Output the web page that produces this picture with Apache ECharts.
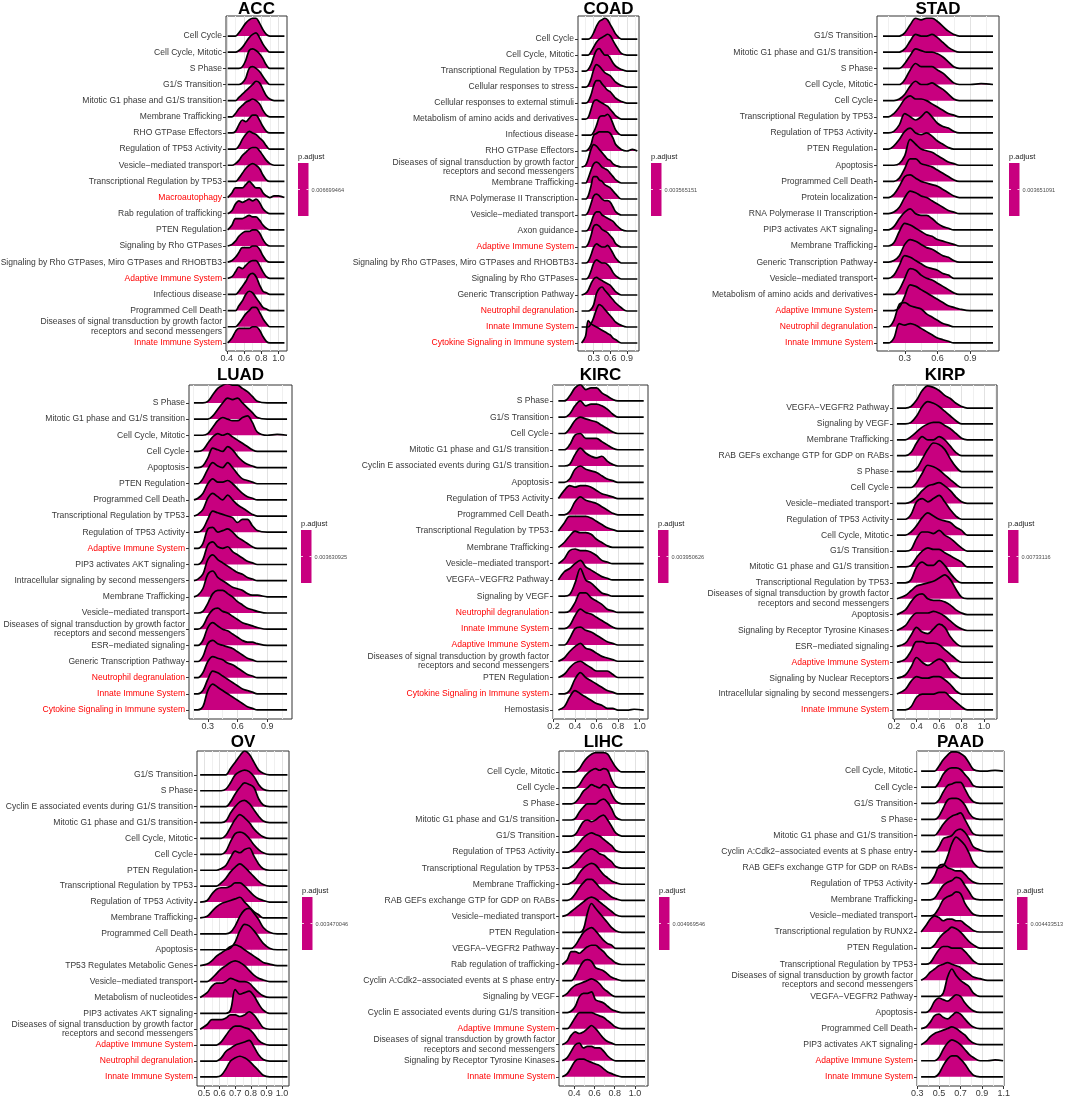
<!DOCTYPE html>
<html>
<head>
<meta charset="utf-8">
<script src="https://cdn.jsdelivr.net/npm/echarts@6/dist/echarts.min.js"></script>
<style>
    html, body { margin: 0; padding: 0; background: #fff; }
    #chart { width: 1065px; height: 1097px; }
</style>
</head>
<body>
<div id="chart"></div>
<script>
const DIS = 'Diseases of signal transduction by growth factor\nreceptors and second messengers';

const panelNames = ['ACC', 'COAD', 'STAD', 'LUAD', 'KIRC', 'KIRP', 'OV', 'LIHC', 'PAAD'];
const pAdjust = ['0.006699464', '0.003565151', '0.003651091', '0.003630925', '0.003950626',
    '0.00733116', '0.003470046', '0.004969546', '0.004433513'];
const redTerms = ['Macroautophagy', 'Adaptive Immune System', 'Innate Immune System',
    'Neutrophil degranulation', 'Cytokine Signaling in Immune system'];

// terms listed top to bottom, densities in tenths of a row height
const accTerms = ['Cell Cycle', 'Cell Cycle, Mitotic', 'S Phase', 'G1/S Transition', 'Mitotic G1 phase and G1/S transition',
    'Membrane Trafficking', 'RHO GTPase Effectors', 'Regulation of TP53 Activity', 'Vesicle−mediated transport',
    'Transcriptional Regulation by TP53', 'Macroautophagy', 'Rab regulation of trafficking', 'PTEN Regulation',
    'Signaling by Rho GTPases', 'Signaling by Rho GTPases, Miro GTPases and RHOBTB3', 'Adaptive Immune System',
    'Infectious disease', 'Programmed Cell Death', DIS, 'Innate Immune System'];
const accX = [0.41, 0.46, 0.50, 0.54, 0.58, 0.62, 0.66, 0.70, 0.74, 0.78, 0.82, 0.86, 0.90, 0.95, 1.00, 1.07];
const accDensity = [
    [0,0,0,2,5,8,10,11,11,8,4,1,0,0,0,0],
    [0,0,0,1,3,6,9,11,12,9,5,2,0,0,0,0],
    [0,0,0,0,1,5,11,12,11,9,6,2,0,0,0,0],
    [0,0,0,0,1,4,10,11,10,8,5,2,0,0,0,0],
    [0,0,0,2,4,6,8,10,12,11,7,3,1,0,0,0],
    [0,0,2,5,7,9,10,11,10,8,4,1,0,0,0,0],
    [0,0,1,5,8,7,9,11,11,8,4,1,0,0,0,0],
    [0,0,0,2,6,9,11,10,9,7,5,2,0,0,0,0],
    [0,0,1,3,6,8,10,11,11,9,6,3,1,0,0,0],
    [0,0,0,2,5,8,10,11,10,8,4,1,0,0,0,0],
    [0,3,6,6,6,8,10,8,6,6,3,1,0,1,1,0],
    [0,2,6,8,7,8,9,8,9,7,3,1,0,0,0,0],
    [0,3,7,7,7,8,9,8,8,6,3,1,0,0,0,0],
    [0,1,3,6,8,9,9,10,10,8,4,1,0,0,0,0],
    [0,1,3,6,9,9,9,10,10,8,4,1,0,0,0,0],
    [0,1,4,7,6,8,10,11,11,8,4,1,0,0,0,0],
    [0,0,0,2,5,8,12,13,11,6,2,1,0,0,0,0],
    [0,0,0,3,6,10,12,11,8,5,2,1,0,0,0,0],
    [0,0,0,2,5,8,10,12,12,9,5,2,0,0,0,0],
    [0,3,7,9,9,9,9,10,10,8,4,1,0,0,0,0]
];
const accTicks = [0.4, 0.6, 0.8, 1.0];
const accGrid = [0.4, 0.5, 0.6, 0.7, 0.8, 0.9, 1.0];

const coadTerms = ['Cell Cycle', 'Cell Cycle, Mitotic', 'Transcriptional Regulation by TP53', 'Cellular responses to stress',
    'Cellular responses to external stimuli', 'Metabolism of amino acids and derivatives', 'Infectious disease',
    'RHO GTPase Effectors', DIS, 'Membrane Trafficking', 'RNA Polymerase II Transcription', 'Vesicle−mediated transport',
    'Axon guidance', 'Adaptive Immune System', 'Signaling by Rho GTPases, Miro GTPases and RHOBTB3',
    'Signaling by Rho GTPases', 'Generic Transcription Pathway', 'Neutrophil degranulation', 'Innate Immune System',
    'Cytokine Signaling in Immune system'];
const coadX = [0.08, 0.15, 0.2, 0.25, 0.3, 0.35, 0.4, 0.45, 0.5, 0.55, 0.6, 0.65, 0.7, 0.8, 0.9, 1.0, 1.09];
const coadDensity = [
    [0,0,0,1,4,8,11,12,13,12,9,6,3,0,0,0,0],
    [0,0,0,2,5,8,10,11,12,13,12,9,6,1,0,0,0],
    [0,0,1,4,9,13,14,12,10,10,8,5,3,1,0,0,0],
    [0,0,1,5,11,14,13,11,9,8,7,5,3,1,0,0,0],
    [0,0,1,5,11,14,14,12,10,8,7,5,3,1,0,0,0],
    [0,0,1,6,11,12,11,10,9,8,6,4,2,0,0,0,0],
    [0,0,0,0,2,6,11,12,12,13,11,7,3,0,0,0,0],
    [0,0,1,4,10,11,12,12,12,12,11,8,4,1,0,1,0],
    [0,1,5,11,14,13,11,9,7,5,4,2,1,0,0,0,0],
    [0,0,3,8,12,13,12,10,9,8,6,4,2,0,0,0,0],
    [0,0,2,8,14,14,12,11,9,8,7,5,3,0,0,0,0],
    [0,0,2,7,12,13,12,10,9,9,8,5,2,0,0,0,0],
    [0,0,1,5,10,12,12,10,9,8,7,6,4,1,0,0,0],
    [0,0,2,7,13,14,13,11,10,9,7,5,2,0,0,0,0],
    [0,0,1,5,10,12,11,10,10,11,9,6,3,0,0,0,0],
    [0,0,1,5,10,12,11,10,10,9,7,4,2,0,0,0,0],
    [0,1,3,7,10,11,10,9,8,7,6,4,2,0,0,0,0],
    [0,0,0,1,4,11,14,15,13,11,9,7,5,2,0,0,0],
    [0,0,0,2,6,11,14,13,11,9,7,5,3,1,0,0,0],
    [0,4,14,12,11,10,9,8,7,6,5,3,2,0,0,0,0]
];
const coadTicks = [0.3, 0.6, 0.9];
const coadGrid = [0.15, 0.3, 0.45, 0.6, 0.75, 0.9, 1.05];

const stadTerms = ['G1/S Transition', 'Mitotic G1 phase and G1/S transition', 'S Phase', 'Cell Cycle, Mitotic', 'Cell Cycle',
    'Transcriptional Regulation by TP53', 'Regulation of TP53 Activity', 'PTEN Regulation', 'Apoptosis',
    'Programmed Cell Death', 'Protein localization', 'RNA Polymerase II Transcription', 'PIP3 activates AKT signaling',
    'Membrane Trafficking', 'Generic Transcription Pathway', 'Vesicle−mediated transport',
    'Metabolism of amino acids and derivatives', 'Adaptive Immune System', 'Neutrophil degranulation',
    'Innate Immune System'];
const stadX = [0.1, 0.15, 0.2, 0.25, 0.3, 0.35, 0.4, 0.45, 0.5, 0.55, 0.6, 0.65, 0.7, 0.75, 0.8, 0.9, 1.0, 1.11];
const stadDensity = [
    [0,0,0,0,2,7,11,10,11,11,9,6,3,1,0,0,0,0],
    [0,0,0,0,2,7,11,10,10,11,9,6,3,1,0,0,0,0],
    [0,0,0,0,3,8,12,11,10,10,9,7,4,1,0,0,0,0],
    [0,0,0,0,3,9,13,11,11,11,9,7,4,1,0,0,0.5,0],
    [0,0,0,1,4,9,12,10,10,11,9,7,4,1,0,0,0,0],
    [0,0,2,6,11,13,11,11,10,8,6,4,2,1,0,0,0,0],
    [0,0,1,5,12,10,8,10,13,10,6,4,3,1,0,0,0,0],
    [0,0,2,6,11,13,10,9,10,8,5,3,1,0,0,0,0,0],
    [0,0,0,1,6,16,13,10,9,8,6,4,2,1,0,0,0,0],
    [0,0,0,2,8,14,14,11,10,9,7,5,3,1,0,0,0,0],
    [0,0,2,7,13,14,12,10,9,8,7,5,3,1,0,0,0,0],
    [0,0,1,4,10,14,13,11,10,8,6,4,2,1,0,0,0,0],
    [0,0,2,7,11,13,10,9,9,7,4,2,1,0,0,0,0,0],
    [0,0,2,9,14,13,11,9,7,6,4,3,2,1,0,0,0,0],
    [0,0,1,4,11,14,13,11,9,8,6,4,3,1,0,0,0,0],
    [0,0,2,8,14,13,11,9,7,6,5,3,2,0,0,0,0,0],
    [0,0,0,3,10,16,15,12,10,9,7,5,3,1,0,0,0,0],
    [0,0,0,2,9,16,15,13,11,9,7,5,3,2,1,0,0,0],
    [0,0,4,14,15,13,12,11,8,6,4,2,1,0,0,0,0,0],
    [0,0,3,12,11,12,11,9,7,5,3,2,1,0,0,0,0,0]
];
const stadTicks = [0.3, 0.6, 0.9];
const stadGrid = [0.15, 0.3, 0.45, 0.6, 0.75, 0.9, 1.05];

const luadTerms = ['S Phase', 'Mitotic G1 phase and G1/S transition', 'Cell Cycle, Mitotic', 'Cell Cycle', 'Apoptosis',
    'PTEN Regulation', 'Programmed Cell Death', 'Transcriptional Regulation by TP53', 'Regulation of TP53 Activity',
    'Adaptive Immune System', 'PIP3 activates AKT signaling', 'Intracellular signaling by second messengers',
    'Membrane Trafficking', 'Vesicle−mediated transport', DIS, 'ESR−mediated signaling',
    'Generic Transcription Pathway', 'Neutrophil degranulation', 'Innate Immune System',
    'Cytokine Signaling in Immune system'];
const luadX = [0.16, 0.2, 0.25, 0.3, 0.35, 0.4, 0.45, 0.5, 0.55, 0.6, 0.65, 0.7, 0.75, 0.8, 0.9, 1.0, 1.1];
const luadDensity = [
    [0,0,0,1,5,9,11,12,11,11,9,7,4,1,0,0,0],
    [0,0,0,0,2,6,10,13,12,13,10,7,4,1,0,0,0],
    [0,0,0,1,5,9,11,10,9,9,11,12,8,2,0,0.5,0],
    [0,0,1,5,9,11,10,11,9,7,5,3,1,0,0,0,0],
    [0,0,1,6,12,11,10,13,11,7,4,2,1,0,0,0,0],
    [0,0,3,9,13,11,10,13,10,6,3,2,1,0,0,0,0],
    [0,1,4,10,13,11,11,12,10,7,4,2,1,0,0,0,0],
    [0,1,4,11,14,12,10,13,10,7,5,3,1,0,0,0,0],
    [0,0,2,8,13,12,11,10,9,6,8,8,4,1,0,0,0],
    [0,0,3,12,13,10,11,12,10,7,5,3,1,0,0,0,0],
    [0,0,3,12,14,11,10,11,8,6,4,2,1,0,0,0,0],
    [0,1,4,13,16,13,11,9,7,5,4,2,1,0,0,0,0],
    [0,1,5,14,16,12,10,8,6,5,4,2,1,1,0,0,0],
    [0,0,1,6,12,14,14,12,10,7,5,3,2,1,0,0,0],
    [0,0,2,8,12,13,11,10,8,6,4,3,2,1,0,0,0],
    [0,0,3,11,14,12,10,9,7,5,3,2,2,1,0,0,0],
    [0,0,3,11,13,11,10,9,8,6,4,2,1,0,0,0,0],
    [0,0,3,10,13,12,11,9,8,6,4,2,1,0,0,0,0],
    [0,0,2,9,14,13,11,9,7,5,3,2,1,0,0,0,0],
    [0,0,2,12,16,14,12,10,8,6,4,2,1,0,0,0,0]
];
const luadTicks = [0.3, 0.6, 0.9];
const luadGrid = [0.15, 0.3, 0.45, 0.6, 0.75, 0.9, 1.05];

const kircTerms = ['S Phase', 'G1/S Transition', 'Cell Cycle', 'Mitotic G1 phase and G1/S transition',
    'Cyclin E associated events during G1/S transition', 'Apoptosis', 'Regulation of TP53 Activity',
    'Programmed Cell Death', 'Transcriptional Regulation by TP53', 'Membrane Trafficking', 'Vesicle−mediated transport',
    'VEGFA−VEGFR2 Pathway', 'Signaling by VEGF', 'Neutrophil degranulation', 'Innate Immune System',
    'Adaptive Immune System', DIS, 'PTEN Regulation', 'Cytokine Signaling in Immune system', 'Hemostasis'];
const kircX = [0.245, 0.3, 0.35, 0.4, 0.45, 0.5, 0.55, 0.6, 0.65, 0.7, 0.75, 0.8, 0.85, 0.9, 0.95, 1.04];
const kircDensity = [
    [0,0,3,8,10,7,8,8,5,3,1,0,0,0,0,0],
    [0,0,2,7,10,7,8,8,7,5,2,0,0,0,0,0],
    [0,0,3,8,10,9,8,7,5,3,1,0,0,0,0,0],
    [0,0,3,9,10,7,7,7,5,3,1,0,0,0,0,0],
    [0,0,1,7,11,8,6,5,6,3,1,0,0,0,0,0],
    [0,0,2,8,10,8,7,6,4,2,1,0,0,0,0,0],
    [0,5,8,7,8,8,7,5,3,2,1,0,0,0,0,0],
    [0,0,2,8,11,9,8,7,5,3,1,0,0,0,0,0],
    [0,5,9,9,9,9,8,6,4,2,1,0,0,0,0,0],
    [0,3,7,10,9,9,8,5,3,1,0,0,0,0,0,0],
    [0,3,8,9,8,8,7,5,2,1,0,0,0,0,0,0],
    [0,5,7,10,12,8,6,4,2,1,0,0,0,0,0,0],
    [0,0,1,8,17,10,8,5,2,1,0,0,0,0,0,0],
    [0,0,1,6,12,12,9,7,5,2,1,0,0,0,0,0],
    [0,0,2,8,12,10,9,7,5,3,1,0,0,0,0,0],
    [0,0,4,10,11,9,8,6,4,2,1,0,0,0,0,0],
    [0,2,6,9,11,8,7,5,3,2,1,0,0,0,0,0],
    [0,2,6,9,10,8,6,4,4,4,2,0,0,0,0,0],
    [0,0,2,9,13,10,8,6,4,2,1,0,0,0,0,0],
    [0,2,8,12,10,8,6,4,3,1,1,0,0,0,0.5,0]
];
const kircTicks = [0.2, 0.4, 0.6, 0.8, 1.0];
const kircGrid = [0.2, 0.3, 0.4, 0.5, 0.6, 0.7, 0.8, 0.9, 1.0];

const kirpTerms = ['VEGFA−VEGFR2 Pathway', 'Signaling by VEGF', 'Membrane Trafficking',
    'RAB GEFs exchange GTP for GDP on RABs', 'S Phase', 'Cell Cycle', 'Vesicle−mediated transport',
    'Regulation of TP53 Activity', 'Cell Cycle, Mitotic', 'G1/S Transition', 'Mitotic G1 phase and G1/S transition',
    'Transcriptional Regulation by TP53', DIS, 'Apoptosis', 'Signaling by Receptor Tyrosine Kinases',
    'ESR−mediated signaling', 'Adaptive Immune System', 'Signaling by Nuclear Receptors',
    'Intracellular signaling by second messengers', 'Innate Immune System'];
const kirpX = [0.225, 0.3, 0.35, 0.4, 0.45, 0.5, 0.55, 0.6, 0.65, 0.7, 0.75, 0.8, 0.85, 0.9, 1.0, 1.08];
const kirpDensity = [
    [0,0,1,5,11,14,13,11,8,6,3,1,0,0,0,0],
    [0,0,1,5,11,14,13,11,8,5,2,0,0,0,0,0],
    [0,0,2,5,8,10,11,11,9,7,4,1,0,0,0,0],
    [0,0,2,8,12,10,10,12,10,6,2,0,0,0,0,0],
    [0,0,0,2,8,14,18,17,14,8,3,0,0,0,0,0],
    [0,0,0,3,9,14,13,11,8,5,2,0,0,0,0,0],
    [0,0,1,4,8,11,12,13,11,8,4,1,0,0,0,0],
    [0,0,3,11,13,11,13,15,11,6,2,0,0,0,0,0],
    [0,0,2,6,11,14,12,10,9,8,5,3,0,0,0,0],
    [0,0,1,8,12,12,11,13,10,8,5,2,0,0,0,0],
    [0,0,1,6,10,12,11,11,9,7,5,3,0,0,0,0],
    [0,0,2,10,13,11,11,14,11,6,2,0,0,0,0,0],
    [0,2,5,8,9,10,11,13,15,12,6,1,0,0,0,0],
    [0,3,8,12,13,10,9,9,8,6,3,1,0,0,0,0],
    [0,3,8,11,11,11,12,11,9,6,3,1,0,0,0,0],
    [0,2,7,12,9,8,11,14,12,6,2,0,0,0,0,0],
    [0,2,7,13,13,12,12,11,8,5,2,0,0,0,0,0],
    [0,2,7,13,10,8,10,12,10,5,2,0,0,0,0,0],
    [0,3,8,11,10,10,11,11,9,6,2,0,0,0,0,0],
    [0,0,2,8,10,10,10,11,11,8,5,2,0,0,0,0]
];
const kirpTicks = [0.2, 0.4, 0.6, 0.8, 1.0];
const kirpGrid = [0.2, 0.3, 0.4, 0.5, 0.6, 0.7, 0.8, 0.9, 1.0, 1.1];

const ovTerms = ['G1/S Transition', 'S Phase', 'Cyclin E associated events during G1/S transition',
    'Mitotic G1 phase and G1/S transition', 'Cell Cycle, Mitotic', 'Cell Cycle', 'PTEN Regulation',
    'Transcriptional Regulation by TP53', 'Regulation of TP53 Activity', 'Membrane Trafficking', 'Programmed Cell Death',
    'Apoptosis', 'TP53 Regulates Metabolic Genes', 'Vesicle−mediated transport', 'Metabolism of nucleotides',
    'PIP3 activates AKT signaling', DIS, 'Adaptive Immune System', 'Neutrophil degranulation', 'Innate Immune System'];
const ovX = [0.475, 0.52, 0.55, 0.58, 0.61, 0.64, 0.67, 0.70, 0.73, 0.76, 0.79, 0.82, 0.85, 0.88, 0.92, 0.97, 1.035];
const ovDensity = [
    [0,0,0,0,0,0,4,8,12,15,13,8,3,1,0,0,0],
    [0,0,0,0,0,1,5,10,12,13,12,9,4,1,0,0,0],
    [0,0,0,0,0,0,3,8,12,15,14,12,5,1,0,0,0],
    [0,0,0,0,0,1,6,10,13,14,12,8,4,1,0,0,0],
    [0,0,0,0,0,2,7,12,15,13,10,6,3,1,0,0,0],
    [0,0,0,0,0,2,8,13,14,13,10,6,3,1,0,0,0],
    [0,0,0,0,1,3,8,12,11,13,14,9,4,1,0,0,0],
    [0,0,0,0,2,5,9,12,14,12,9,6,3,1,0,0,0],
    [0,1,5,8,9,9,10,12,12,10,7,4,2,1,0,0,0],
    [0,1,4,7,9,10,11,12,13,10,7,4,2,0,0,0,0],
    [0,0,0,0,0,0,1,5,11,15,16,13,9,4,1,0,0],
    [0,0,0,0,0,0,1,5,12,16,15,12,8,4,1,0,0],
    [0,1,3,6,8,10,12,13,12,10,8,6,4,2,1,0,0],
    [0,0,2,5,8,10,12,13,12,10,7,4,2,1,0,0,0],
    [0,3,7,9,9,10,12,11,10,10,9,6,3,1,0,0,0],
    [0,0,0,0,0,0,2,15,12,13,14,11,6,2,0,0,0],
    [0,3,6,6,6,7,9,9,8,9,11,9,5,1,0,0,0],
    [0,0,0,0,2,6,10,12,12,11,10,7,3,1,0,0,0],
    [0,0,0,0,2,6,8,10,11,12,13,9,4,1,0,0,0],
    [0,0,0,0,1,5,10,12,13,12,10,7,4,1,0,0,0]
];
const ovTicks = [0.5, 0.6, 0.7, 0.8, 0.9, 1.0];
const ovGrid = [0.5, 0.55, 0.6, 0.65, 0.7, 0.75, 0.8, 0.85, 0.9, 0.95, 1.0];

const lihcTerms = ['Cell Cycle, Mitotic', 'Cell Cycle', 'S Phase', 'Mitotic G1 phase and G1/S transition', 'G1/S Transition',
    'Regulation of TP53 Activity', 'Transcriptional Regulation by TP53', 'Membrane Trafficking',
    'RAB GEFs exchange GTP for GDP on RABs', 'Vesicle−mediated transport', 'PTEN Regulation', 'VEGFA−VEGFR2 Pathway',
    'Rab regulation of trafficking', 'Cyclin A:Cdk2−associated events at S phase entry', 'Signaling by VEGF',
    'Cyclin E associated events during G1/S transition', 'Adaptive Immune System', DIS,
    'Signaling by Receptor Tyrosine Kinases', 'Innate Immune System'];
const lihcX = [0.28, 0.33, 0.37, 0.41, 0.45, 0.49, 0.53, 0.57, 0.61, 0.65, 0.69, 0.73, 0.77, 0.81, 0.87, 0.95, 1.1];
const lihcDensity = [
    [0,0,0,0,2,6,9,11,12,12,12,11,7,3,0,0,0],
    [0,0,0,0,2,6,9,11,12,11,12,11,5,1,0,0,0],
    [0,0,0,1,4,8,10,12,11,10,12,11,6,2,0,0,0],
    [0,0,0,1,5,8,10,10,10,12,13,11,7,2,0,0,0],
    [0,0,0,1,5,9,10,9,10,12,13,10,6,2,0,0,0],
    [0,0,1,3,6,9,11,12,11,10,8,6,4,1,0,0,0],
    [0,0,1,3,6,9,11,12,11,9,8,6,4,1,0,0,0],
    [0,0,1,3,7,10,12,13,12,9,6,4,2,1,0,0,0],
    [0,0,1,4,8,11,13,13,11,8,6,4,2,1,0,0,0],
    [0,1,3,5,7,9,11,12,11,9,7,5,3,1,0,0,0],
    [0,0,0,0,0,2,12,18,15,12,9,6,3,1,0,0,0],
    [0,0,0,2,6,10,12,13,11,8,5,3,2,0,0,0,0],
    [0,3,8,8,7,9,11,12,12,10,8,5,3,1,0,0,0],
    [0,0,0,3,8,12,13,12,8,7,6,4,2,1,0,0,0],
    [0,2,5,7,8,9,10,11,10,8,5,3,1,0,0,0,0],
    [0,0,1,4,10,12,12,13,8,7,6,4,2,1,0,0,0],
    [0,0,3,7,10,10,10,10,9,8,7,5,3,1,0,0,0],
    [0,2,6,8,7,8,10,12,10,7,4,2,1,0,0,0,0],
    [0,2,6,10,11,8,9,9,8,8,6,3,1,0,0,0,0],
    [0,2,6,10,11,11,10,9,8,7,5,3,2,1,0,0,0]
];
const lihcTicks = [0.4, 0.6, 0.8, 1.0];
const lihcGrid = [0.3, 0.4, 0.5, 0.6, 0.7, 0.8, 0.9, 1.0, 1.1];

const paadTerms = ['Cell Cycle, Mitotic', 'Cell Cycle', 'G1/S Transition', 'S Phase', 'Mitotic G1 phase and G1/S transition',
    'Cyclin A:Cdk2−associated events at S phase entry', 'RAB GEFs exchange GTP for GDP on RABs',
    'Regulation of TP53 Activity', 'Membrane Trafficking', 'Vesicle−mediated transport',
    'Transcriptional regulation by RUNX2', 'PTEN Regulation', 'Transcriptional Regulation by TP53', DIS,
    'VEGFA−VEGFR2 Pathway', 'Apoptosis', 'Programmed Cell Death', 'PIP3 activates AKT signaling',
    'Adaptive Immune System', 'Innate Immune System'];
const paadX = [0.335, 0.38, 0.42, 0.46, 0.50, 0.54, 0.58, 0.62, 0.66, 0.70, 0.74, 0.78, 0.82, 0.88, 0.95, 1.02, 1.095];
const paadDensity = [
    [0,0,0,0,3,7,10,12,12,11,9,5,1,0,0,0.5,0],
    [0,0,0,0,3,8,11,12,12,11,8,5,1,0,0,0,0],
    [0,0,0,0,2,7,11,12,13,13,9,4,1,0,0,0,0],
    [0,0,0,0,2,7,12,13,13,12,9,4,1,0,0,0,0],
    [0,0,0,0,3,7,10,12,13,14,10,5,1,0,0,0,0],
    [0,0,0,0,3,8,9,10,13,14,12,8,3,1,0,0,0],
    [0,0,0,0,0,1,7,15,19,17,14,9,3,0,0,0,0],
    [0,0,1,5,11,12,10,9,8,8,6,3,1,0,0,0,0],
    [0,0,0,1,5,9,11,12,14,13,9,5,1,0,0,0,0],
    [0,0,0,1,5,10,12,13,15,14,8,4,1,0,0,0,0],
    [0,4,8,10,9,7,8,8,7,7,5,3,1,0,0,0,0],
    [0,0,0,2,6,9,11,13,12,10,7,4,2,0,0,0,0],
    [0,0,1,5,9,11,11,10,10,10,8,5,2,0,0,0,0],
    [0,2,5,7,9,10,11,10,9,8,6,4,2,1,0,0,0],
    [0,0,0,0,0,2,12,17,13,10,8,6,2,0,0,0,0],
    [0,0,2,7,9,8,7,9,11,10,6,3,1,0,0,0,0],
    [0,1,4,8,9,7,6,8,10,9,6,3,1,0,0,0,0],
    [0,2,5,7,8,9,10,11,10,8,6,3,1,0,0,0,0],
    [0,0,0,0,2,7,11,13,12,10,7,4,2,0,0,0.5,0],
    [0,0,0,0,2,7,11,13,13,11,8,4,1,0,0,0,0]
];
const paadTicks = [0.3, 0.5, 0.7, 0.9, 1.1];
const paadGrid = [0.3, 0.4, 0.5, 0.6, 0.7, 0.8, 0.9, 1.0, 1.1];

// panel boxes [left, top, right, bottom], x range, y padding [below, above] in rows, legend anchor
const layout = [
    { box: [226, 16, 287, 351], xr: [0.39, 1.10], pad: [0.5, 1.24], leg: [298, 157], titleY: 9 },
    { box: [578, 16, 639, 351], xr: [0.015, 1.12], pad: [0.5, 1.44], leg: [651, 157], titleY: 9 },
    { box: [877, 16, 999, 351], xr: [0.045, 1.165], pad: [0.5, 1.24], leg: [1009, 157], titleY: 9 },
    { box: [189, 385, 292, 719], xr: [0.11, 1.15], pad: [0.56, 1.11], leg: [301, 524], titleY: 375.5 },
    { box: [553, 385, 648, 719], xr: [0.195, 1.08], pad: [0.55, 0.98], leg: [658, 524], titleY: 375.5 },
    { box: [893, 385, 997, 719], xr: [0.19, 1.115], pad: [0.57, 1.45], leg: [1008, 524], titleY: 375.5 },
    { box: [197, 751, 289, 1086], xr: [0.455, 1.045], pad: [0.57, 1.5], leg: [302, 891], titleY: 742 },
    { box: [559, 751, 648, 1086], xr: [0.248, 1.13], pad: [0.57, 1.3], leg: [659, 891], titleY: 742 },
    { box: [917, 751, 1004, 1086], xr: [0.297, 1.103], pad: [0.57, 1.25], leg: [1017, 891], titleY: 742 }
];

const panels = [
    [accTerms, accX, accDensity, accTicks, accGrid],
    [coadTerms, coadX, coadDensity, coadTicks, coadGrid],
    [stadTerms, stadX, stadDensity, stadTicks, stadGrid],
    [luadTerms, luadX, luadDensity, luadTicks, luadGrid],
    [kircTerms, kircX, kircDensity, kircTicks, kircGrid],
    [kirpTerms, kirpX, kirpDensity, kirpTicks, kirpGrid],
    [ovTerms, ovX, ovDensity, ovTicks, ovGrid],
    [lihcTerms, lihcX, lihcDensity, lihcTicks, lihcGrid],
    [paadTerms, paadX, paadDensity, paadTicks, paadGrid]
];

const FILL = '#C8007F';
const FONT = '"Liberation Sans", Arial, sans-serif';
const TEXT = '#383838';
const LABEL_SIZE = 8.55;

let grids = [], xAxes = [], yAxes = [], series = [], graphics = [];

panels.forEach(function (panel, p) {
    const [terms, xs, dens, ticks, gridVals] = panel;
    const L = layout[p];
    const n = terms.length;
    const rows = terms.map((t, i) => n - 1 - i);

    grids.push({
        left: L.box[0], top: L.box[1], width: L.box[2] - L.box[0], height: L.box[3] - L.box[1],
        show: true, borderColor: '#333', borderWidth: 1, backgroundColor: '#fff',
        containLabel: false, outerBoundsMode: 'none'
    });

    const firstMajor = ticks.some(t => Math.abs(t - gridVals[0]) < 1e-9);
    const majorC = '#E2E2E2', minorC = '#F0F0F0';

    // gridlines
    xAxes.push({
        gridIndex: p, type: 'value', min: L.xr[0], max: L.xr[1], position: 'bottom',
        axisLine: { show: false },
        axisTick: { show: false, customValues: gridVals },
        axisLabel: { show: false },
        splitLine: { show: true, lineStyle: { color: firstMajor ? [majorC, minorC] : [minorC, majorC], width: 1 } }
    });
    // ticks and labels
    xAxes.push({
        gridIndex: p, type: 'value', min: L.xr[0], max: L.xr[1], position: 'bottom',
        axisLine: { show: false },
        axisTick: { show: true, length: 3, customValues: ticks, lineStyle: { color: '#333' } },
        axisLabel: {
            customValues: ticks, fontSize: 9, color: TEXT, fontFamily: FONT, margin: 3,
            formatter: v => v.toFixed(1)
        },
        splitLine: { show: false }
    });

    yAxes.push({
        gridIndex: p, type: 'value', min: -L.pad[0], max: n - 1 + L.pad[1],
        axisLine: { show: false },
        axisTick: { show: true, length: 3, customValues: rows, lineStyle: { color: '#333' } },
        axisLabel: {
            customValues: rows, fontSize: LABEL_SIZE, color: TEXT, fontFamily: FONT, margin: 4, lineHeight: 9.5,
            formatter: function (v) {
                const t = terms[n - 1 - Math.round(v)];
                return redTerms.indexOf(t) >= 0 ? '{r|' + t + '}' : t;
            },
            rich: { r: { color: '#FF0000', fontSize: LABEL_SIZE, fontFamily: FONT } }
        },
        splitLine: { show: false }
    });

    // top ridge first so lower ridges overlap it
    terms.forEach(function (t, i) {
        const row = n - 1 - i;
        series.push({
            type: 'line', xAxisIndex: 2 * p, yAxisIndex: p, smooth: 0.35, symbol: 'none', silent: true,
            data: xs.map((x, k) => [x, row + dens[i][k] / 10]),
            lineStyle: { color: '#000', width: 1.7 },
            areaStyle: { color: FILL, opacity: 1, origin: row },
            z: 2
        });
    });

    // panel title
    graphics.push({
        type: 'text', x: (L.box[0] + L.box[2]) / 2, y: L.titleY,
        style: { text: panelNames[p], fill: '#000', fontSize: 17, fontWeight: 'bold', fontFamily: FONT,
            align: 'center', verticalAlign: 'middle' }
    });

    // p.adjust colour bar
    const lx = L.leg[0], ly = L.leg[1];
    graphics.push({
        type: 'text', x: lx, y: ly,
        style: { text: 'p.adjust', fill: '#1A1A1A', fontSize: 7.5, fontFamily: FONT, align: 'left', verticalAlign: 'middle' }
    });
    graphics.push({ type: 'rect', shape: { x: lx, y: ly + 6, width: 10.5, height: 53 }, style: { fill: FILL } });
    graphics.push({ type: 'line', shape: { x1: lx, y1: ly + 32.5, x2: lx + 2, y2: ly + 32.5 }, style: { stroke: '#fff', lineWidth: 0.8 } });
    graphics.push({ type: 'line', shape: { x1: lx + 8.5, y1: ly + 32.5, x2: lx + 10.5, y2: ly + 32.5 }, style: { stroke: '#fff', lineWidth: 0.8 } });
    graphics.push({
        type: 'text', x: lx + 13.5, y: ly + 33,
        style: { text: pAdjust[p], fill: '#4D4D4D', fontSize: 5.6, fontFamily: FONT, align: 'left', verticalAlign: 'middle' }
    });
});

const chart = echarts.init(document.getElementById('chart'), null, { renderer: 'canvas' });
chart.setOption({
    animation: false,
    backgroundColor: '#fff',
    grid: grids,
    xAxis: xAxes,
    yAxis: yAxes,
    series: series,
    graphic: graphics
});
</script>
</body>
</html>
